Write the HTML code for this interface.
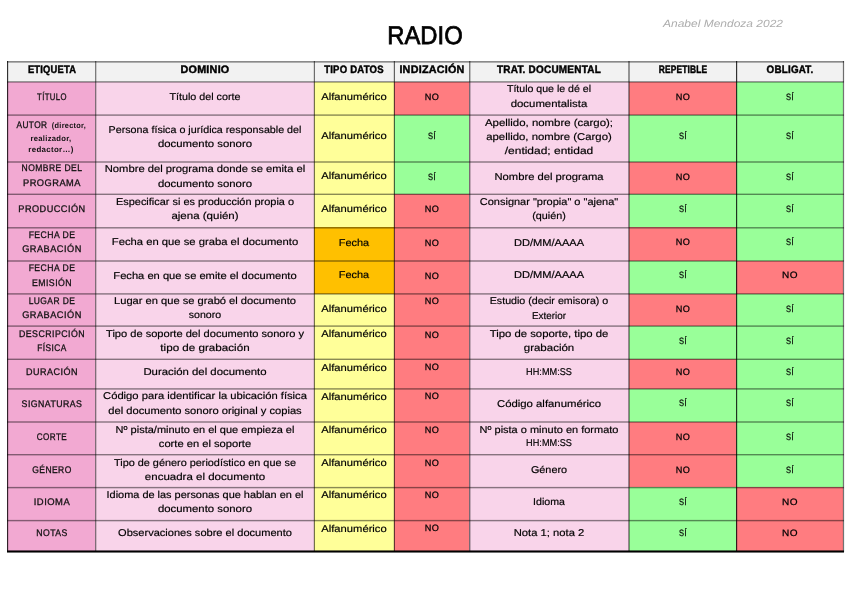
<!DOCTYPE html>
<html><head><meta charset="utf-8"><title>RADIO</title>
<style>
html,body{margin:0;padding:0;background:#fff;}
body{width:848px;height:599px;position:relative;overflow:hidden;font-family:"Liberation Sans",sans-serif;color:#111;}
.c{position:absolute;}
.t{position:absolute;white-space:nowrap;text-align:center;line-height:14px;height:14px;transform-origin:50% 50%;}
.h{font-weight:bold;font-size:10.8px;color:#000;-webkit-text-stroke:0.45px #000;}
.e{font-size:9.6px;color:#111;-webkit-text-stroke:0.3px #111;}
.es{font-size:7.8px;font-weight:bold;color:#111;}
.d{font-size:9.9px;color:#000;-webkit-text-stroke:0.18px #000;}
.b{font-size:9.2px;color:#000;-webkit-text-stroke:0.25px #000;}
.vl,.hl{position:absolute;background:#5a5a5a;}
</style></head><body>

<div class="c" style="left:7px;top:61px;width:837px;height:21px;background:#f2f2f2"></div>
<div class="c" style="left:7px;top:82px;width:88px;height:33px;background:#f2a9d2"></div>
<div class="c" style="left:95px;top:82px;width:219px;height:33px;background:#f9d4ea"></div>
<div class="c" style="left:314px;top:82px;width:80px;height:33px;background:#ffff99"></div>
<div class="c" style="left:394px;top:82px;width:75px;height:33px;background:#ff7c80"></div>
<div class="c" style="left:469px;top:82px;width:160px;height:33px;background:#f9d4ea"></div>
<div class="c" style="left:629px;top:82px;width:107px;height:33px;background:#ff7c80"></div>
<div class="c" style="left:736px;top:82px;width:107px;height:33px;background:#99ff99"></div>
<div class="c" style="left:7px;top:115px;width:88px;height:47px;background:#f2a9d2"></div>
<div class="c" style="left:95px;top:115px;width:219px;height:47px;background:#f9d4ea"></div>
<div class="c" style="left:314px;top:115px;width:80px;height:47px;background:#ffff99"></div>
<div class="c" style="left:394px;top:115px;width:75px;height:47px;background:#99ff99"></div>
<div class="c" style="left:469px;top:115px;width:160px;height:47px;background:#f9d4ea"></div>
<div class="c" style="left:629px;top:115px;width:107px;height:47px;background:#99ff99"></div>
<div class="c" style="left:736px;top:115px;width:107px;height:47px;background:#99ff99"></div>
<div class="c" style="left:7px;top:162px;width:88px;height:32px;background:#f2a9d2"></div>
<div class="c" style="left:95px;top:162px;width:219px;height:32px;background:#f9d4ea"></div>
<div class="c" style="left:314px;top:162px;width:80px;height:32px;background:#ffff99"></div>
<div class="c" style="left:394px;top:162px;width:75px;height:32px;background:#99ff99"></div>
<div class="c" style="left:469px;top:162px;width:160px;height:32px;background:#f9d4ea"></div>
<div class="c" style="left:629px;top:162px;width:107px;height:32px;background:#ff7c80"></div>
<div class="c" style="left:736px;top:162px;width:107px;height:32px;background:#99ff99"></div>
<div class="c" style="left:7px;top:194px;width:88px;height:33px;background:#f2a9d2"></div>
<div class="c" style="left:95px;top:194px;width:219px;height:33px;background:#f9d4ea"></div>
<div class="c" style="left:314px;top:194px;width:80px;height:33px;background:#ffff99"></div>
<div class="c" style="left:394px;top:194px;width:75px;height:33px;background:#ff7c80"></div>
<div class="c" style="left:469px;top:194px;width:160px;height:33px;background:#f9d4ea"></div>
<div class="c" style="left:629px;top:194px;width:107px;height:33px;background:#99ff99"></div>
<div class="c" style="left:736px;top:194px;width:107px;height:33px;background:#99ff99"></div>
<div class="c" style="left:7px;top:227px;width:88px;height:34px;background:#f2a9d2"></div>
<div class="c" style="left:95px;top:227px;width:219px;height:34px;background:#f9d4ea"></div>
<div class="c" style="left:314px;top:227px;width:80px;height:34px;background:#ffc000"></div>
<div class="c" style="left:394px;top:227px;width:75px;height:34px;background:#ff7c80"></div>
<div class="c" style="left:469px;top:227px;width:160px;height:34px;background:#f9d4ea"></div>
<div class="c" style="left:629px;top:227px;width:107px;height:34px;background:#ff7c80"></div>
<div class="c" style="left:736px;top:227px;width:107px;height:34px;background:#99ff99"></div>
<div class="c" style="left:7px;top:261px;width:88px;height:33px;background:#f2a9d2"></div>
<div class="c" style="left:95px;top:261px;width:219px;height:33px;background:#f9d4ea"></div>
<div class="c" style="left:314px;top:261px;width:80px;height:33px;background:#ffc000"></div>
<div class="c" style="left:394px;top:261px;width:75px;height:33px;background:#ff7c80"></div>
<div class="c" style="left:469px;top:261px;width:160px;height:33px;background:#f9d4ea"></div>
<div class="c" style="left:629px;top:261px;width:107px;height:33px;background:#99ff99"></div>
<div class="c" style="left:736px;top:261px;width:107px;height:33px;background:#ff7c80"></div>
<div class="c" style="left:7px;top:294px;width:88px;height:32px;background:#f2a9d2"></div>
<div class="c" style="left:95px;top:294px;width:219px;height:32px;background:#f9d4ea"></div>
<div class="c" style="left:314px;top:294px;width:80px;height:32px;background:#ffff99"></div>
<div class="c" style="left:394px;top:294px;width:75px;height:32px;background:#ff7c80"></div>
<div class="c" style="left:469px;top:294px;width:160px;height:32px;background:#f9d4ea"></div>
<div class="c" style="left:629px;top:294px;width:107px;height:32px;background:#ff7c80"></div>
<div class="c" style="left:736px;top:294px;width:107px;height:32px;background:#99ff99"></div>
<div class="c" style="left:7px;top:326px;width:88px;height:33px;background:#f2a9d2"></div>
<div class="c" style="left:95px;top:326px;width:219px;height:33px;background:#f9d4ea"></div>
<div class="c" style="left:314px;top:326px;width:80px;height:33px;background:#ffff99"></div>
<div class="c" style="left:394px;top:326px;width:75px;height:33px;background:#ff7c80"></div>
<div class="c" style="left:469px;top:326px;width:160px;height:33px;background:#f9d4ea"></div>
<div class="c" style="left:629px;top:326px;width:107px;height:33px;background:#99ff99"></div>
<div class="c" style="left:736px;top:326px;width:107px;height:33px;background:#99ff99"></div>
<div class="c" style="left:7px;top:359px;width:88px;height:30px;background:#f2a9d2"></div>
<div class="c" style="left:95px;top:359px;width:219px;height:30px;background:#f9d4ea"></div>
<div class="c" style="left:314px;top:359px;width:80px;height:30px;background:#ffff99"></div>
<div class="c" style="left:394px;top:359px;width:75px;height:30px;background:#ff7c80"></div>
<div class="c" style="left:469px;top:359px;width:160px;height:30px;background:#f9d4ea"></div>
<div class="c" style="left:629px;top:359px;width:107px;height:30px;background:#ff7c80"></div>
<div class="c" style="left:736px;top:359px;width:107px;height:30px;background:#99ff99"></div>
<div class="c" style="left:7px;top:389px;width:88px;height:33px;background:#f2a9d2"></div>
<div class="c" style="left:95px;top:389px;width:219px;height:33px;background:#f9d4ea"></div>
<div class="c" style="left:314px;top:389px;width:80px;height:33px;background:#ffff99"></div>
<div class="c" style="left:394px;top:389px;width:75px;height:33px;background:#ff7c80"></div>
<div class="c" style="left:469px;top:389px;width:160px;height:33px;background:#f9d4ea"></div>
<div class="c" style="left:629px;top:389px;width:107px;height:33px;background:#99ff99"></div>
<div class="c" style="left:736px;top:389px;width:107px;height:33px;background:#99ff99"></div>
<div class="c" style="left:7px;top:422px;width:88px;height:32px;background:#f2a9d2"></div>
<div class="c" style="left:95px;top:422px;width:219px;height:32px;background:#f9d4ea"></div>
<div class="c" style="left:314px;top:422px;width:80px;height:32px;background:#ffff99"></div>
<div class="c" style="left:394px;top:422px;width:75px;height:32px;background:#ff7c80"></div>
<div class="c" style="left:469px;top:422px;width:160px;height:32px;background:#f9d4ea"></div>
<div class="c" style="left:629px;top:422px;width:107px;height:32px;background:#ff7c80"></div>
<div class="c" style="left:736px;top:422px;width:107px;height:32px;background:#99ff99"></div>
<div class="c" style="left:7px;top:454px;width:88px;height:33px;background:#f2a9d2"></div>
<div class="c" style="left:95px;top:454px;width:219px;height:33px;background:#f9d4ea"></div>
<div class="c" style="left:314px;top:454px;width:80px;height:33px;background:#ffff99"></div>
<div class="c" style="left:394px;top:454px;width:75px;height:33px;background:#ff7c80"></div>
<div class="c" style="left:469px;top:454px;width:160px;height:33px;background:#f9d4ea"></div>
<div class="c" style="left:629px;top:454px;width:107px;height:33px;background:#ff7c80"></div>
<div class="c" style="left:736px;top:454px;width:107px;height:33px;background:#99ff99"></div>
<div class="c" style="left:7px;top:487px;width:88px;height:33px;background:#f2a9d2"></div>
<div class="c" style="left:95px;top:487px;width:219px;height:33px;background:#f9d4ea"></div>
<div class="c" style="left:314px;top:487px;width:80px;height:33px;background:#ffff99"></div>
<div class="c" style="left:394px;top:487px;width:75px;height:33px;background:#ff7c80"></div>
<div class="c" style="left:469px;top:487px;width:160px;height:33px;background:#f9d4ea"></div>
<div class="c" style="left:629px;top:487px;width:107px;height:33px;background:#99ff99"></div>
<div class="c" style="left:736px;top:487px;width:107px;height:33px;background:#ff7c80"></div>
<div class="c" style="left:7px;top:520px;width:88px;height:31px;background:#f2a9d2"></div>
<div class="c" style="left:95px;top:520px;width:219px;height:31px;background:#f9d4ea"></div>
<div class="c" style="left:314px;top:520px;width:80px;height:31px;background:#ffff99"></div>
<div class="c" style="left:394px;top:520px;width:75px;height:31px;background:#ff7c80"></div>
<div class="c" style="left:469px;top:520px;width:160px;height:31px;background:#f9d4ea"></div>
<div class="c" style="left:629px;top:520px;width:107px;height:31px;background:#99ff99"></div>
<div class="c" style="left:736px;top:520px;width:107px;height:31px;background:#ff7c80"></div>
<div class="vl" style="left:7px;top:61px;width:1px;height:491px;background:rgba(0,0,0,0.80)"></div>
<div class="vl" style="left:8px;top:61px;width:1px;height:491px;background:rgba(0,0,0,0.12)"></div>
<div class="vl" style="left:95px;top:61px;width:1px;height:491px;background:rgba(0,0,0,0.49)"></div>
<div class="vl" style="left:96px;top:61px;width:1px;height:491px;background:rgba(0,0,0,0.16)"></div>
<div class="vl" style="left:313px;top:61px;width:1px;height:491px;background:rgba(0,0,0,0.11)"></div>
<div class="vl" style="left:314px;top:61px;width:1px;height:491px;background:rgba(0,0,0,0.55)"></div>
<div class="vl" style="left:393px;top:61px;width:1px;height:491px;background:rgba(0,0,0,0.12)"></div>
<div class="vl" style="left:394px;top:61px;width:1px;height:491px;background:rgba(0,0,0,0.60)"></div>
<div class="vl" style="left:469px;top:61px;width:1px;height:491px;background:rgba(0,0,0,0.51)"></div>
<div class="vl" style="left:470px;top:61px;width:1px;height:491px;background:rgba(0,0,0,0.21)"></div>
<div class="vl" style="left:628px;top:61px;width:1px;height:491px;background:rgba(0,0,0,0.39)"></div>
<div class="vl" style="left:629px;top:61px;width:1px;height:491px;background:rgba(0,0,0,0.39)"></div>
<div class="vl" style="left:736px;top:61px;width:1px;height:491px;background:rgba(0,0,0,0.80)"></div>
<div class="vl" style="left:737px;top:61px;width:1px;height:491px;background:rgba(0,0,0,0.14)"></div>
<div class="vl" style="left:842px;top:61px;width:1px;height:491px;background:rgba(0,0,0,0.06)"></div>
<div class="vl" style="left:843px;top:61px;width:1px;height:491px;background:rgba(0,0,0,0.55)"></div>
<div class="vl" style="left:844px;top:61px;width:1px;height:491px;background:rgba(0,0,0,0.06)"></div>
<div class="hl" style="left:7px;top:61px;width:837px;height:1px;background:rgba(0,0,0,0.43)"></div>
<div class="hl" style="left:7px;top:62px;width:837px;height:1px;background:rgba(0,0,0,0.28)"></div>
<div class="hl" style="left:7px;top:81px;width:837px;height:1px;background:rgba(0,0,0,0.38)"></div>
<div class="hl" style="left:7px;top:82px;width:837px;height:1px;background:rgba(0,0,0,0.29)"></div>
<div class="hl" style="left:7px;top:114px;width:837px;height:1px;background:rgba(0,0,0,0.28)"></div>
<div class="hl" style="left:7px;top:115px;width:837px;height:1px;background:rgba(0,0,0,0.37)"></div>
<div class="hl" style="left:7px;top:161px;width:837px;height:1px;background:rgba(0,0,0,0.32)"></div>
<div class="hl" style="left:7px;top:162px;width:837px;height:1px;background:rgba(0,0,0,0.32)"></div>
<div class="hl" style="left:7px;top:193px;width:837px;height:1px;background:rgba(0,0,0,0.18)"></div>
<div class="hl" style="left:7px;top:194px;width:837px;height:1px;background:rgba(0,0,0,0.46)"></div>
<div class="hl" style="left:7px;top:227px;width:837px;height:1px;background:rgba(0,0,0,0.41)"></div>
<div class="hl" style="left:7px;top:228px;width:837px;height:1px;background:rgba(0,0,0,0.23)"></div>
<div class="hl" style="left:7px;top:260px;width:837px;height:1px;background:rgba(0,0,0,0.32)"></div>
<div class="hl" style="left:7px;top:261px;width:837px;height:1px;background:rgba(0,0,0,0.32)"></div>
<div class="hl" style="left:7px;top:293px;width:837px;height:1px;background:rgba(0,0,0,0.37)"></div>
<div class="hl" style="left:7px;top:294px;width:837px;height:1px;background:rgba(0,0,0,0.28)"></div>
<div class="hl" style="left:7px;top:325px;width:837px;height:1px;background:rgba(0,0,0,0.28)"></div>
<div class="hl" style="left:7px;top:326px;width:837px;height:1px;background:rgba(0,0,0,0.37)"></div>
<div class="hl" style="left:7px;top:358px;width:837px;height:1px;background:rgba(0,0,0,0.18)"></div>
<div class="hl" style="left:7px;top:359px;width:837px;height:1px;background:rgba(0,0,0,0.46)"></div>
<div class="hl" style="left:7px;top:388px;width:837px;height:1px;background:rgba(0,0,0,0.37)"></div>
<div class="hl" style="left:7px;top:389px;width:837px;height:1px;background:rgba(0,0,0,0.28)"></div>
<div class="hl" style="left:7px;top:421px;width:837px;height:1px;background:rgba(0,0,0,0.32)"></div>
<div class="hl" style="left:7px;top:422px;width:837px;height:1px;background:rgba(0,0,0,0.32)"></div>
<div class="hl" style="left:7px;top:454px;width:837px;height:1px;background:rgba(0,0,0,0.46)"></div>
<div class="hl" style="left:7px;top:455px;width:837px;height:1px;background:rgba(0,0,0,0.18)"></div>
<div class="hl" style="left:7px;top:486px;width:837px;height:1px;background:rgba(0,0,0,0.05)"></div>
<div class="hl" style="left:7px;top:487px;width:837px;height:1px;background:rgba(0,0,0,0.46)"></div>
<div class="hl" style="left:7px;top:488px;width:837px;height:1px;background:rgba(0,0,0,0.14)"></div>
<div class="hl" style="left:7px;top:519px;width:837px;height:1px;background:rgba(0,0,0,0.05)"></div>
<div class="hl" style="left:7px;top:520px;width:837px;height:1px;background:rgba(0,0,0,0.46)"></div>
<div class="hl" style="left:7px;top:521px;width:837px;height:1px;background:rgba(0,0,0,0.14)"></div>
<div class="hl" style="left:7px;top:550px;width:837px;height:3px;background:rgba(0,0,0,0.55)"></div>
<div class="hl" style="left:7px;top:551px;width:837px;height:1px;background:#000"></div>
<div id="tx" style="position:absolute;left:0;top:0;width:848px;height:599px;overflow:hidden;will-change:transform;">
<div class="t" style="left:324.8px;top:20px;width:200px;height:30px;line-height:30px;font-size:25.6px;color:#000;-webkit-text-stroke:0.75px #000;transform:scale(0.93,1) rotate(0.03deg);">RADIO</div>
<div class="t" style="left:623px;top:16.3px;width:200px;font-size:10.5px;font-style:italic;color:#adadad;transform:scale(1.142,1) rotate(0.03deg);">Anabel Mendoza 2022</div>
<div class="t h" style="left:-98.39px;top:62.1px;width:300px;letter-spacing:0.25px;transform:scale(0.864,1.000) rotate(0.03deg);">ETIQUETA</div>
<div class="t h" style="left:55.12px;top:62.1px;width:300px;letter-spacing:0.25px;transform:scale(0.998,1.000) rotate(0.03deg);">DOMINIO</div>
<div class="t h" style="left:203.71px;top:62.1px;width:300px;letter-spacing:0.25px;transform:scale(0.883,1.000) rotate(0.03deg);">TIPO DATOS</div>
<div class="t h" style="left:282.12px;top:62.1px;width:300px;letter-spacing:0.25px;transform:scale(0.996,1.000) rotate(0.03deg);">INDIZACIÓN</div>
<div class="t h" style="left:399.02px;top:62.1px;width:300px;letter-spacing:0.25px;transform:scale(0.922,1.000) rotate(0.03deg);">TRAT. DOCUMENTAL</div>
<div class="t h" style="left:533.10px;top:62.1px;width:300px;letter-spacing:0.25px;transform:scale(0.775,1.000) rotate(0.03deg);">REPETIBLE</div>
<div class="t h" style="left:640.11px;top:62.1px;width:300px;letter-spacing:0.25px;transform:scale(0.908,1.000) rotate(0.03deg);">OBLIGAT.</div>
<div class="t e" style="left:-98.30px;top:89.5px;width:300px;letter-spacing:0.50px;transform:scale(0.803,1.000) rotate(0.03deg);">TÍTULO</div>
<div class="t e" style="left:-98.28px;top:161.0px;width:300px;letter-spacing:0.50px;transform:scale(0.889,1.000) rotate(0.03deg);">NOMBRE DEL</div>
<div class="t e" style="left:-98.26px;top:176.2px;width:300px;letter-spacing:0.50px;transform:scale(0.966,1.000) rotate(0.03deg);">PROGRAMA</div>
<div class="t e" style="left:-98.26px;top:202.0px;width:300px;letter-spacing:0.50px;transform:scale(0.954,1.000) rotate(0.03deg);">PRODUCCIÓN</div>
<div class="t e" style="left:-98.28px;top:228.2px;width:300px;letter-spacing:0.50px;transform:scale(0.898,1.000) rotate(0.03deg);">FECHA DE</div>
<div class="t e" style="left:-98.26px;top:241.5px;width:300px;letter-spacing:0.50px;transform:scale(0.959,1.000) rotate(0.03deg);">GRABACIÓN</div>
<div class="t e" style="left:-98.28px;top:261.0px;width:300px;letter-spacing:0.50px;transform:scale(0.898,1.000) rotate(0.03deg);">FECHA DE</div>
<div class="t e" style="left:-98.27px;top:275.8px;width:300px;letter-spacing:0.50px;transform:scale(0.910,1.000) rotate(0.03deg);">EMISIÓN</div>
<div class="t e" style="left:-98.28px;top:294.0px;width:300px;letter-spacing:0.50px;transform:scale(0.880,1.000) rotate(0.03deg);">LUGAR DE</div>
<div class="t e" style="left:-98.26px;top:308.2px;width:300px;letter-spacing:0.50px;transform:scale(0.959,1.000) rotate(0.03deg);">GRABACIÓN</div>
<div class="t e" style="left:-98.27px;top:326.8px;width:300px;letter-spacing:0.50px;transform:scale(0.914,1.000) rotate(0.03deg);">DESCRIPCIÓN</div>
<div class="t e" style="left:-98.28px;top:340.5px;width:300px;letter-spacing:0.50px;transform:scale(0.867,1.000) rotate(0.03deg);">FÍSICA</div>
<div class="t e" style="left:-98.27px;top:364.8px;width:300px;letter-spacing:0.50px;transform:scale(0.938,1.000) rotate(0.03deg);">DURACIÓN</div>
<div class="t e" style="left:-98.27px;top:396.5px;width:300px;letter-spacing:0.50px;transform:scale(0.912,1.000) rotate(0.03deg);">SIGNATURAS</div>
<div class="t e" style="left:-98.29px;top:429.8px;width:300px;letter-spacing:0.50px;transform:scale(0.847,1.000) rotate(0.03deg);">CORTE</div>
<div class="t e" style="left:-98.28px;top:463.0px;width:300px;letter-spacing:0.50px;transform:scale(0.886,1.000) rotate(0.03deg);">GÉNERO</div>
<div class="t e" style="left:-98.25px;top:494.5px;width:300px;letter-spacing:0.50px;transform:scale(0.983,1.000) rotate(0.03deg);">IDIOMA</div>
<div class="t e" style="left:-98.27px;top:526.0px;width:300px;letter-spacing:0.50px;transform:scale(0.902,1.000) rotate(0.03deg);">NOTAS</div>
<div class="t e" style="left:-117.58px;top:117.5px;width:300px;letter-spacing:0.50px;transform:scale(0.864,1.000) rotate(0.03deg);">AUTOR</div>
<div class="t es" style="left:-80.86px;top:118.8px;width:300px;letter-spacing:0.30px;transform:scale(0.942,1.000) rotate(0.03deg);">(director,</div>
<div class="t es" style="left:-98.95px;top:131.8px;width:300px;letter-spacing:0.30px;transform:scale(0.980,1.000) rotate(0.03deg);">realizador,</div>
<div class="t es" style="left:-98.60px;top:142.5px;width:300px;letter-spacing:0.30px;transform:scale(1.016,1.000) rotate(0.03deg);">redactor…)</div>
<div class="t d" style="left:55.00px;top:89.6px;width:300px;transform:scale(1.086,1.000) rotate(0.03deg);">Título del corte</div>
<div class="t d" style="left:55.00px;top:122.8px;width:300px;transform:scale(1.084,1.000) rotate(0.03deg);">Persona física o jurídica responsable del</div>
<div class="t d" style="left:55.00px;top:136.6px;width:300px;transform:scale(1.149,1.000) rotate(0.03deg);">documento sonoro</div>
<div class="t d" style="left:55.00px;top:162.3px;width:300px;transform:scale(1.134,1.000) rotate(0.03deg);">Nombre del programa donde se emita el</div>
<div class="t d" style="left:55.00px;top:177.1px;width:300px;transform:scale(1.149,1.000) rotate(0.03deg);">documento sonoro</div>
<div class="t d" style="left:55.00px;top:194.6px;width:300px;transform:scale(1.107,1.000) rotate(0.03deg);">Especificar si es producción propia o</div>
<div class="t d" style="left:55.00px;top:208.6px;width:300px;transform:scale(1.166,1.000) rotate(0.03deg);">ajena (quién)</div>
<div class="t d" style="left:55.00px;top:235.1px;width:300px;transform:scale(1.139,1.000) rotate(0.03deg);">Fecha en que se graba el documento</div>
<div class="t d" style="left:55.00px;top:268.6px;width:300px;transform:scale(1.128,1.000) rotate(0.03deg);">Fecha en que se emite el documento</div>
<div class="t d" style="left:55.00px;top:293.6px;width:300px;transform:scale(1.127,1.000) rotate(0.03deg);">Lugar en que se grabó el documento</div>
<div class="t d" style="left:55.00px;top:308.4px;width:300px;transform:scale(1.070,1.000) rotate(0.03deg);">sonoro</div>
<div class="t d" style="left:55.00px;top:327.1px;width:300px;transform:scale(1.122,1.000) rotate(0.03deg);">Tipo de soporte del documento sonoro y</div>
<div class="t d" style="left:55.00px;top:340.6px;width:300px;transform:scale(1.178,1.000) rotate(0.03deg);">tipo de grabación</div>
<div class="t d" style="left:55.00px;top:365.1px;width:300px;transform:scale(1.151,1.000) rotate(0.03deg);">Duración del documento</div>
<div class="t d" style="left:55.00px;top:389.1px;width:300px;transform:scale(1.136,1.000) rotate(0.03deg);">Código para identificar la ubicación física</div>
<div class="t d" style="left:55.00px;top:403.6px;width:300px;transform:scale(1.129,1.000) rotate(0.03deg);">del documento sonoro original y copias</div>
<div class="t d" style="left:55.00px;top:422.9px;width:300px;transform:scale(1.113,1.000) rotate(0.03deg);">Nº pista/minuto en el que empieza el</div>
<div class="t d" style="left:55.00px;top:437.1px;width:300px;transform:scale(1.129,1.000) rotate(0.03deg);">corte en el soporte</div>
<div class="t d" style="left:55.00px;top:455.6px;width:300px;transform:scale(1.100,1.000) rotate(0.03deg);">Tipo de género periodístico en que se</div>
<div class="t d" style="left:55.00px;top:469.6px;width:300px;transform:scale(1.166,1.000) rotate(0.03deg);">encuadra el documento</div>
<div class="t d" style="left:55.00px;top:488.2px;width:300px;transform:scale(1.107,1.000) rotate(0.03deg);">Idioma de las personas que hablan en el</div>
<div class="t d" style="left:55.00px;top:502.4px;width:300px;transform:scale(1.149,1.000) rotate(0.03deg);">documento sonoro</div>
<div class="t d" style="left:55.00px;top:526.4px;width:300px;transform:scale(1.119,1.000) rotate(0.03deg);">Observaciones sobre el documento</div>
<div class="t d" style="left:203.60px;top:89.6px;width:300px;transform:scale(1.135,1.000) rotate(0.03deg);">Alfanumérico</div>
<div class="t d" style="left:203.60px;top:128.6px;width:300px;transform:scale(1.135,1.000) rotate(0.03deg);">Alfanumérico</div>
<div class="t d" style="left:203.60px;top:169.1px;width:300px;transform:scale(1.135,1.000) rotate(0.03deg);">Alfanumérico</div>
<div class="t d" style="left:203.60px;top:201.6px;width:300px;transform:scale(1.135,1.000) rotate(0.03deg);">Alfanumérico</div>
<div class="t d" style="left:203.60px;top:235.8px;width:300px;transform:scale(1.108,1.000) rotate(0.03deg);">Fecha</div>
<div class="t d" style="left:203.60px;top:268.4px;width:300px;transform:scale(1.108,1.000) rotate(0.03deg);">Fecha</div>
<div class="t d" style="left:203.60px;top:301.6px;width:300px;transform:scale(1.135,1.000) rotate(0.03deg);">Alfanumérico</div>
<div class="t d" style="left:203.60px;top:326.6px;width:300px;transform:scale(1.135,1.000) rotate(0.03deg);">Alfanumérico</div>
<div class="t d" style="left:203.60px;top:360.6px;width:300px;transform:scale(1.135,1.000) rotate(0.03deg);">Alfanumérico</div>
<div class="t d" style="left:203.60px;top:389.6px;width:300px;transform:scale(1.135,1.000) rotate(0.03deg);">Alfanumérico</div>
<div class="t d" style="left:203.60px;top:422.6px;width:300px;transform:scale(1.135,1.000) rotate(0.03deg);">Alfanumérico</div>
<div class="t d" style="left:203.60px;top:455.9px;width:300px;transform:scale(1.135,1.000) rotate(0.03deg);">Alfanumérico</div>
<div class="t d" style="left:203.60px;top:487.6px;width:300px;transform:scale(1.135,1.000) rotate(0.03deg);">Alfanumérico</div>
<div class="t d" style="left:203.60px;top:521.9px;width:300px;transform:scale(1.135,1.000) rotate(0.03deg);">Alfanumérico</div>
<div class="t b" style="left:282.25px;top:89.5px;width:300px;letter-spacing:0.50px;transform:scale(0.993,1.000) rotate(0.03deg);">NO</div>
<div class="t b" style="left:282.20px;top:129.0px;width:300px;letter-spacing:0.50px;transform:scale(0.816,1.000) rotate(0.03deg);">SÍ</div>
<div class="t b" style="left:282.20px;top:169.5px;width:300px;letter-spacing:0.50px;transform:scale(0.816,1.000) rotate(0.03deg);">SÍ</div>
<div class="t b" style="left:282.25px;top:202.0px;width:300px;letter-spacing:0.50px;transform:scale(0.993,1.000) rotate(0.03deg);">NO</div>
<div class="t b" style="left:282.25px;top:235.5px;width:300px;letter-spacing:0.50px;transform:scale(0.993,1.000) rotate(0.03deg);">NO</div>
<div class="t b" style="left:282.25px;top:268.5px;width:300px;letter-spacing:0.50px;transform:scale(0.993,1.000) rotate(0.03deg);">NO</div>
<div class="t b" style="left:282.25px;top:294.0px;width:300px;letter-spacing:0.50px;transform:scale(0.993,1.000) rotate(0.03deg);">NO</div>
<div class="t b" style="left:282.25px;top:327.5px;width:300px;letter-spacing:0.50px;transform:scale(0.993,1.000) rotate(0.03deg);">NO</div>
<div class="t b" style="left:282.25px;top:360.0px;width:300px;letter-spacing:0.50px;transform:scale(0.993,1.000) rotate(0.03deg);">NO</div>
<div class="t b" style="left:282.25px;top:388.8px;width:300px;letter-spacing:0.50px;transform:scale(0.993,1.000) rotate(0.03deg);">NO</div>
<div class="t b" style="left:282.25px;top:422.5px;width:300px;letter-spacing:0.50px;transform:scale(0.993,1.000) rotate(0.03deg);">NO</div>
<div class="t b" style="left:282.25px;top:455.5px;width:300px;letter-spacing:0.50px;transform:scale(0.993,1.000) rotate(0.03deg);">NO</div>
<div class="t b" style="left:282.25px;top:488.0px;width:300px;letter-spacing:0.50px;transform:scale(0.993,1.000) rotate(0.03deg);">NO</div>
<div class="t b" style="left:282.25px;top:521.2px;width:300px;letter-spacing:0.50px;transform:scale(0.993,1.000) rotate(0.03deg);">NO</div>
<div class="t d" style="left:398.90px;top:82.1px;width:300px;transform:scale(1.071,1.000) rotate(0.03deg);">Título que le dé el</div>
<div class="t d" style="left:398.90px;top:97.1px;width:300px;transform:scale(1.153,1.000) rotate(0.03deg);">documentalista</div>
<div class="t d" style="left:398.90px;top:115.6px;width:300px;transform:scale(1.155,1.000) rotate(0.03deg);">Apellido, nombre (cargo);</div>
<div class="t d" style="left:398.90px;top:129.8px;width:300px;transform:scale(1.149,1.000) rotate(0.03deg);">apellido, nombre (Cargo)</div>
<div class="t d" style="left:398.90px;top:143.8px;width:300px;transform:scale(1.212,1.000) rotate(0.03deg);">/entidad; entidad</div>
<div class="t d" style="left:398.90px;top:170.3px;width:300px;transform:scale(1.134,1.000) rotate(0.03deg);">Nombre del programa</div>
<div class="t d" style="left:398.90px;top:194.6px;width:300px;transform:scale(1.113,1.000) rotate(0.03deg);">Consignar "propia" o "ajena"</div>
<div class="t d" style="left:398.90px;top:209.1px;width:300px;transform:scale(1.094,1.000) rotate(0.03deg);">(quién)</div>
<div class="t d" style="left:398.90px;top:235.6px;width:300px;transform:scale(1.121,1.000) rotate(0.03deg);">DD/MM/AAAA</div>
<div class="t d" style="left:398.90px;top:268.4px;width:300px;transform:scale(1.121,1.000) rotate(0.03deg);">DD/MM/AAAA</div>
<div class="t d" style="left:398.90px;top:293.9px;width:300px;transform:scale(1.080,1.000) rotate(0.03deg);">Estudio (decir emisora) o</div>
<div class="t d" style="left:398.90px;top:308.9px;width:300px;transform:scale(0.997,1.000) rotate(0.03deg);">Exterior</div>
<div class="t d" style="left:398.90px;top:327.1px;width:300px;transform:scale(1.146,1.000) rotate(0.03deg);">Tipo de soporte, tipo de</div>
<div class="t d" style="left:398.90px;top:340.6px;width:300px;transform:scale(1.164,1.000) rotate(0.03deg);">grabación</div>
<div class="t d" style="left:398.90px;top:364.9px;width:300px;transform:scale(0.927,1.000) rotate(0.03deg);">HH:MM:SS</div>
<div class="t d" style="left:398.90px;top:397.1px;width:300px;transform:scale(1.149,1.000) rotate(0.03deg);">Código alfanumérico</div>
<div class="t d" style="left:398.90px;top:422.6px;width:300px;transform:scale(1.112,1.000) rotate(0.03deg);">Nº pista o minuto en formato</div>
<div class="t d" style="left:398.90px;top:436.1px;width:300px;transform:scale(0.927,1.000) rotate(0.03deg);">HH:MM:SS</div>
<div class="t d" style="left:398.90px;top:462.6px;width:300px;transform:scale(1.099,1.000) rotate(0.03deg);">Género</div>
<div class="t d" style="left:398.90px;top:494.9px;width:300px;transform:scale(1.074,1.000) rotate(0.03deg);">Idioma</div>
<div class="t d" style="left:398.90px;top:526.4px;width:300px;transform:scale(1.138,1.000) rotate(0.03deg);">Nota 1; nota 2</div>
<div class="t b" style="left:533.25px;top:89.5px;width:300px;letter-spacing:0.50px;transform:scale(0.993,1.000) rotate(0.03deg);">NO</div>
<div class="t b" style="left:640.20px;top:89.5px;width:300px;letter-spacing:0.50px;transform:scale(0.816,1.000) rotate(0.03deg);">SÍ</div>
<div class="t b" style="left:533.20px;top:129.0px;width:300px;letter-spacing:0.50px;transform:scale(0.816,1.000) rotate(0.03deg);">SÍ</div>
<div class="t b" style="left:640.20px;top:129.0px;width:300px;letter-spacing:0.50px;transform:scale(0.816,1.000) rotate(0.03deg);">SÍ</div>
<div class="t b" style="left:533.25px;top:169.5px;width:300px;letter-spacing:0.50px;transform:scale(0.993,1.000) rotate(0.03deg);">NO</div>
<div class="t b" style="left:640.20px;top:169.5px;width:300px;letter-spacing:0.50px;transform:scale(0.816,1.000) rotate(0.03deg);">SÍ</div>
<div class="t b" style="left:533.20px;top:202.0px;width:300px;letter-spacing:0.50px;transform:scale(0.816,1.000) rotate(0.03deg);">SÍ</div>
<div class="t b" style="left:640.20px;top:202.0px;width:300px;letter-spacing:0.50px;transform:scale(0.816,1.000) rotate(0.03deg);">SÍ</div>
<div class="t b" style="left:533.25px;top:234.5px;width:300px;letter-spacing:0.50px;transform:scale(0.993,1.000) rotate(0.03deg);">NO</div>
<div class="t b" style="left:640.20px;top:234.5px;width:300px;letter-spacing:0.50px;transform:scale(0.816,1.000) rotate(0.03deg);">SÍ</div>
<div class="t b" style="left:533.20px;top:268.0px;width:300px;letter-spacing:0.50px;transform:scale(0.816,1.000) rotate(0.03deg);">SÍ</div>
<div class="t b" style="left:640.27px;top:268.0px;width:300px;letter-spacing:0.50px;transform:scale(1.091,1.000) rotate(0.03deg);">NO</div>
<div class="t b" style="left:533.25px;top:301.5px;width:300px;letter-spacing:0.50px;transform:scale(0.993,1.000) rotate(0.03deg);">NO</div>
<div class="t b" style="left:640.20px;top:301.5px;width:300px;letter-spacing:0.50px;transform:scale(0.816,1.000) rotate(0.03deg);">SÍ</div>
<div class="t b" style="left:533.20px;top:333.8px;width:300px;letter-spacing:0.50px;transform:scale(0.816,1.000) rotate(0.03deg);">SÍ</div>
<div class="t b" style="left:640.20px;top:333.8px;width:300px;letter-spacing:0.50px;transform:scale(0.816,1.000) rotate(0.03deg);">SÍ</div>
<div class="t b" style="left:533.25px;top:365.0px;width:300px;letter-spacing:0.50px;transform:scale(0.993,1.000) rotate(0.03deg);">NO</div>
<div class="t b" style="left:640.20px;top:365.0px;width:300px;letter-spacing:0.50px;transform:scale(0.816,1.000) rotate(0.03deg);">SÍ</div>
<div class="t b" style="left:533.20px;top:396.0px;width:300px;letter-spacing:0.50px;transform:scale(0.816,1.000) rotate(0.03deg);">SÍ</div>
<div class="t b" style="left:640.20px;top:396.0px;width:300px;letter-spacing:0.50px;transform:scale(0.816,1.000) rotate(0.03deg);">SÍ</div>
<div class="t b" style="left:533.25px;top:429.8px;width:300px;letter-spacing:0.50px;transform:scale(0.993,1.000) rotate(0.03deg);">NO</div>
<div class="t b" style="left:640.20px;top:429.8px;width:300px;letter-spacing:0.50px;transform:scale(0.816,1.000) rotate(0.03deg);">SÍ</div>
<div class="t b" style="left:533.25px;top:462.5px;width:300px;letter-spacing:0.50px;transform:scale(0.993,1.000) rotate(0.03deg);">NO</div>
<div class="t b" style="left:640.20px;top:462.5px;width:300px;letter-spacing:0.50px;transform:scale(0.816,1.000) rotate(0.03deg);">SÍ</div>
<div class="t b" style="left:533.20px;top:494.5px;width:300px;letter-spacing:0.50px;transform:scale(0.816,1.000) rotate(0.03deg);">SÍ</div>
<div class="t b" style="left:640.27px;top:494.5px;width:300px;letter-spacing:0.50px;transform:scale(1.091,1.000) rotate(0.03deg);">NO</div>
<div class="t b" style="left:533.20px;top:525.5px;width:300px;letter-spacing:0.50px;transform:scale(0.816,1.000) rotate(0.03deg);">SÍ</div>
<div class="t b" style="left:640.27px;top:525.5px;width:300px;letter-spacing:0.50px;transform:scale(1.091,1.000) rotate(0.03deg);">NO</div>
</div>
</body></html>
